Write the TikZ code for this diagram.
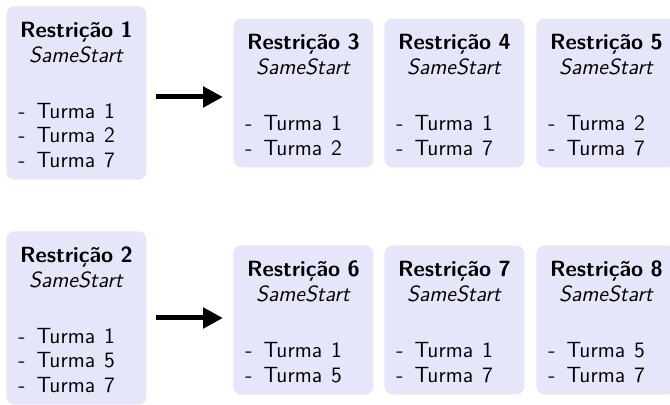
\documentclass[tikz,border=0pt]{standalone}
\usepackage{fontspec}
\usetikzlibrary{arrows.meta,positioning}

\definecolor{lavanda}{RGB}{230,230,250}

% conteudo de uma caixa de restricao
\newcommand{\restricao}[2]{%
  {\centering\fontsize{11}{12.5}\selectfont
   \rule{0pt}{9.6pt}\textbf{Restrição #1}\\\textit{SameStart}\par}%
  \vspace{15.75pt}#2}
\newcommand{\turma}[1]{-\hspace{5.5pt}Turma\hspace{4.5pt}#1}

\tikzset{
  caixa/.style={fill=lavanda, rounded corners=4pt, text width=58pt,
    inner sep=6pt, align=left, anchor=west,
    font=\sffamily\fontsize{11}{12.25}\selectfont},
  seta/.style={line width=2.5pt, -{Triangle[length=10pt,width=10pt]},
    shorten <=4.5pt, shorten >=5pt}
}

\begin{document}
\begin{tikzpicture}[x=0.5pt,y=-0.5pt]
    \clip (0,0) rectangle (670,405);

    % primeira linha
    \node[caixa] (r1) at (6,93) {\restricao{1}{\turma{1}\\\turma{2}\\\turma{7}}};
    \node[caixa] (r3) at (233,93) {\restricao{3}{\turma{1}\\\turma{2}}};
    \node[caixa] (r4) at (384,93) {\restricao{4}{\turma{1}\\\turma{7}}};
    \node[caixa] (r5) at (536,93) {\restricao{5}{\turma{2}\\\turma{7}}};

    % segunda linha
    \node[caixa] (r2) at (6,318) {\restricao{2}{\turma{1}\\\turma{5}\\\turma{7}}};
    \node[caixa] (r6) at (233,320) {\restricao{6}{\turma{1}\\\turma{5}}};
    \node[caixa] (r7) at (384,320) {\restricao{7}{\turma{1}\\\turma{7}}};
    \node[caixa] (r8) at (536,320) {\restricao{8}{\turma{5}\\\turma{7}}};

    % setas
    \draw[seta] ([yshift=-2pt]r1.east) -- ([yshift=-2pt]r1.east -| r3.west);
    \draw[seta] (r2.east) -- (r2.east -| r6.west);
\end{tikzpicture}
\end{document}
